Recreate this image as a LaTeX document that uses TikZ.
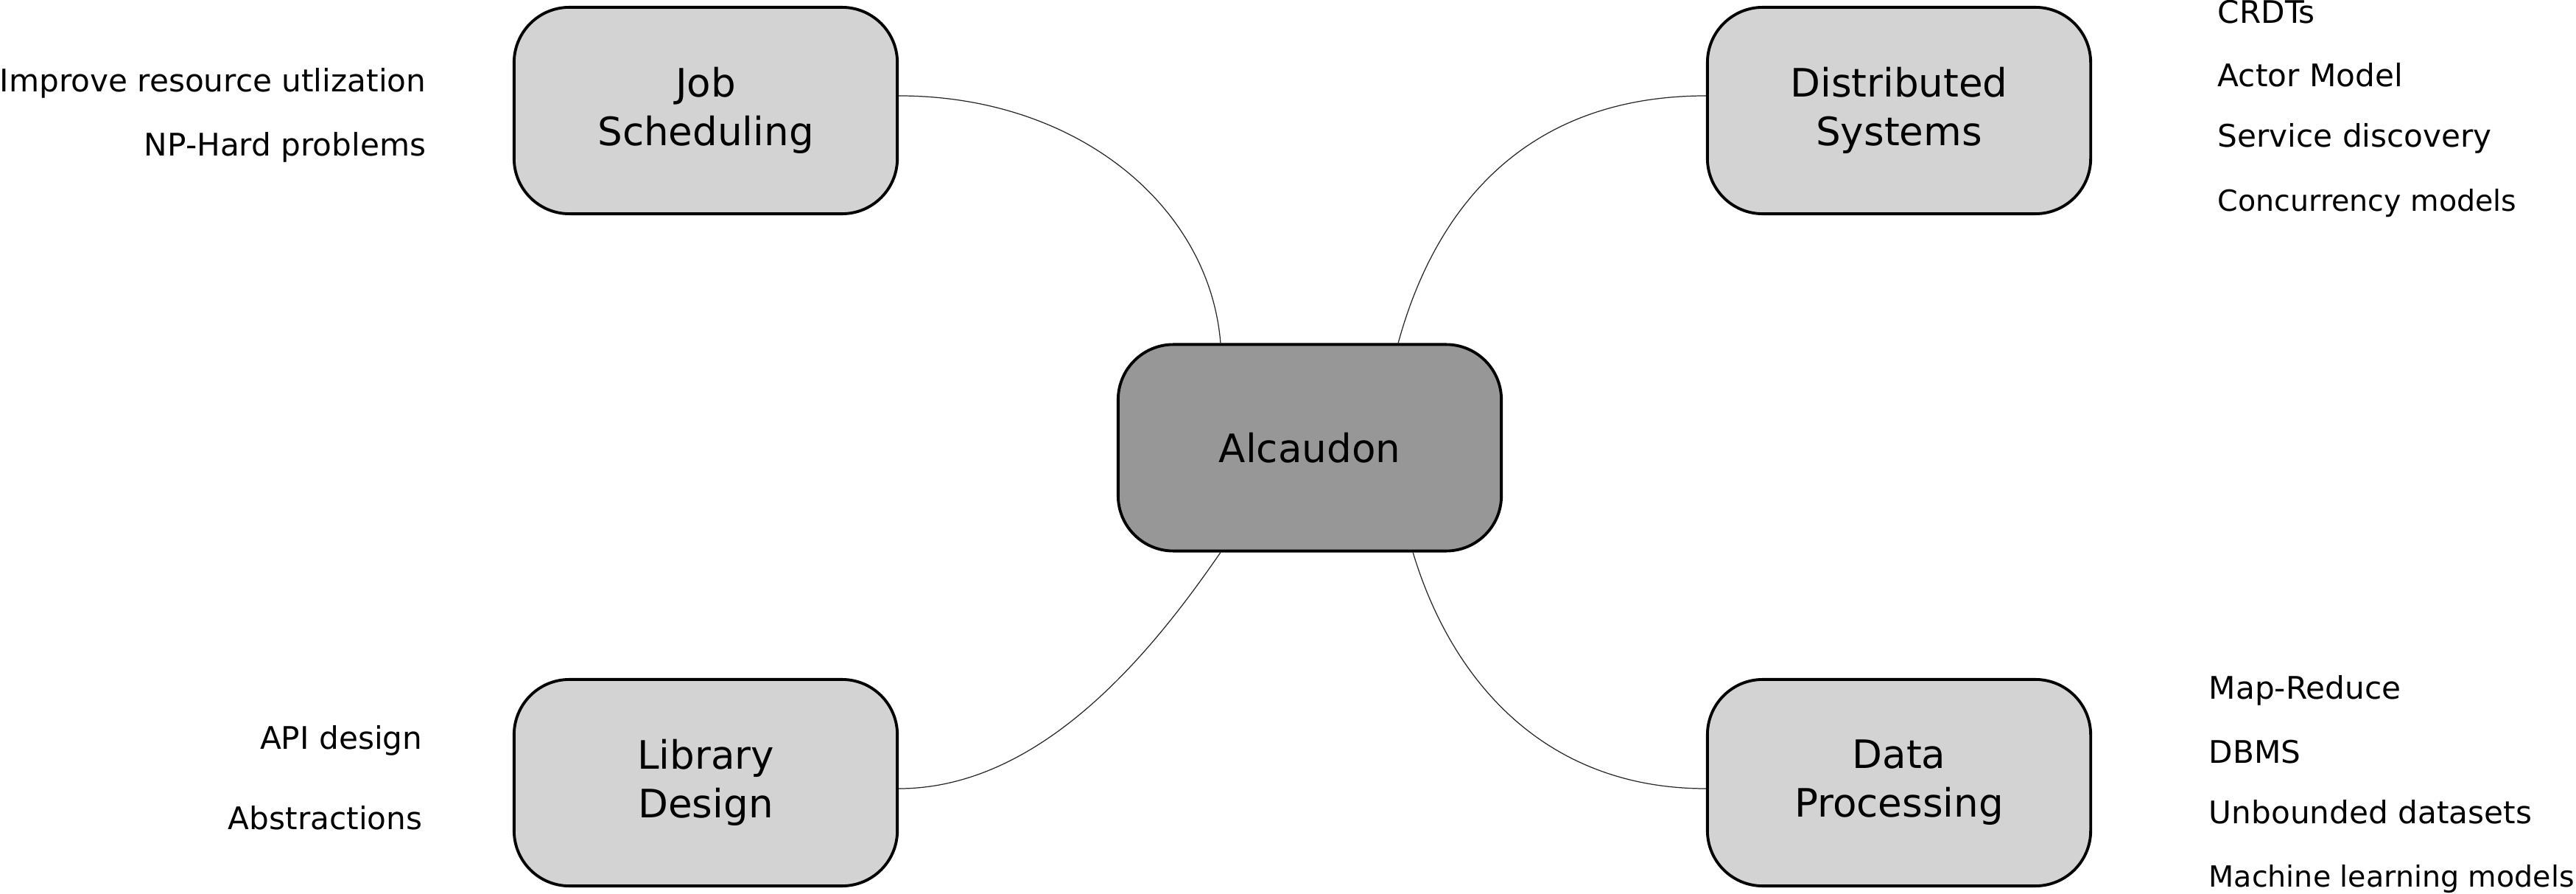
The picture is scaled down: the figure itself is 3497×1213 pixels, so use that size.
\documentclass[tikz,border=0pt]{standalone}
\usepackage{fontspec}
\setmainfont{DejaVu Sans}
\begin{document}
\begin{tikzpicture}[x=0.01cm,y=-0.01cm,
  topic/.style={draw=black, line width=1.1pt, rounded corners=0.75cm,
    minimum width=5.2cm, minimum height=2.8cm, align=center,
    fill={rgb,255:red,211;green,211;blue,211},
    font=\fontsize{15.1}{18.8}\selectfont},
  core/.style={topic, fill={rgb,255:red,151;green,151;blue,151}},
  lbl/.style={inner sep=0pt, font=\fontsize{12}{14}\selectfont},
  lblsmall/.style={inner sep=0pt, font=\fontsize{11.25}{13.5}\selectfont},
  link/.style={line width=0.35pt, draw=black!85}]
\useasboundingbox (0,0) rectangle (3497,1213);

\node[topic] (job) at (958,150) {Job\\Scheduling};
\node[topic] (dist) at (2578,150) {Distributed\\Systems};
\node[core] (alc) at (1778,607.5) {Alcaudon};
\node[topic] (lib) at (958,1062) {Library\\Design};
\node[topic] (data) at (2578,1062) {Data\\Processing};

\node[lbl, anchor=base east] (j1) at (579,125) {Improve resource utlization};
\node[lbl, anchor=base east] (j2) at (579,212) {NP-Hard problems};

\node[lbl, anchor=base east] (l1) at (574,1016) {API design};
\node[lbl, anchor=base east] (l2) at (574,1125) {Abstractions};

\node[lbl, anchor=base west] (d1) at (3010,32) {CRDTs};
\node[lbl, anchor=base west] (d2) at (3010,118) {Actor Model};
\node[lbl, anchor=base west] (d3) at (3010,200) {Service discovery};
\node[lblsmall, anchor=base west] (d4) at (3010,287) {Concurrency models};

\node[lbl, anchor=base west] (p1) at (2998,948) {Map-Reduce};
\node[lbl, anchor=base west] (p2) at (2998,1035) {DBMS};
\node[lbl, anchor=base west] (p3) at (2998,1117) {Unbounded datasets};
\node[lblsmall, anchor=base west] (p4) at (2998,1203) {Machine learning models};

\draw[link] ([yshift=0.2cm]job.east) .. controls +(242,0) and +(-15,-186) .. ([xshift=-1.21cm]alc.north);
\draw[link] ([xshift=1.2cm]alc.north) .. controls +(52,-190) and +(-240,0) .. ([yshift=0.2cm]dist.west);
\draw[link] ([xshift=-1.21cm]alc.south) .. controls +(-85,123) and +(200,0) .. ([yshift=-0.08cm]lib.east);
\draw[link] ([xshift=1.4cm]alc.south) .. controls +(52,173) and +(-220,0) .. ([yshift=-0.08cm]data.west);
\end{tikzpicture}
\end{document}
